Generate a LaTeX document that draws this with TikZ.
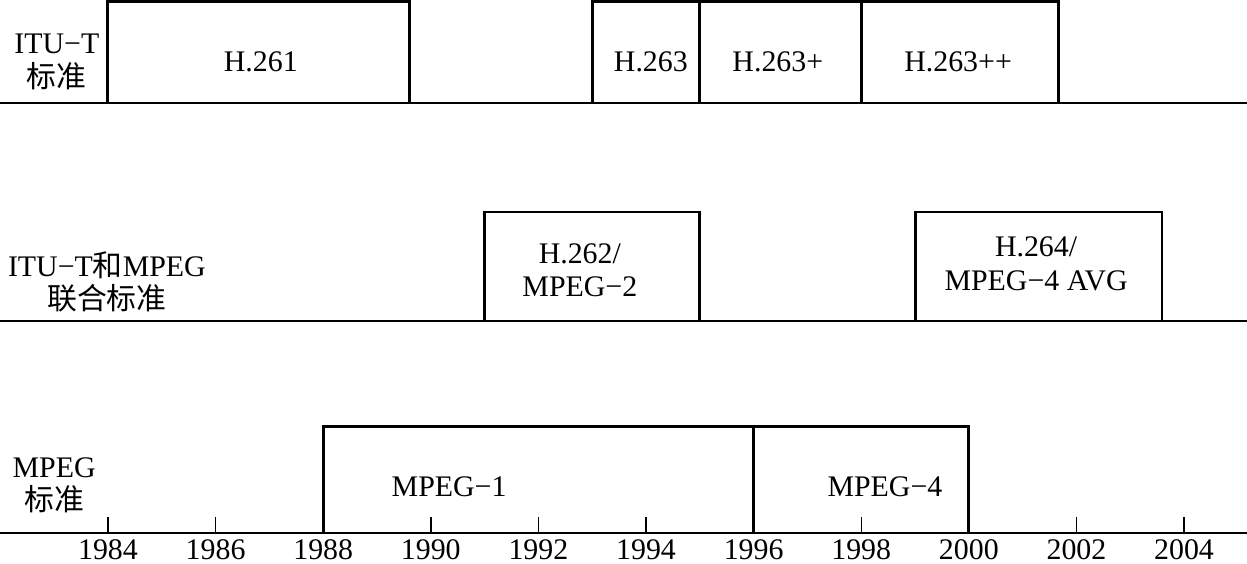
\documentclass[tikz,border=0pt]{standalone}
\usepackage{fontspec}
\setmainfont{Liberation Serif}
\newfontfamily\cjk{Noto Sans CJK SC}
\usepackage{tikz}
\usetikzlibrary{positioning}
\newcommand{\txt}{\fontsize{17}{19}\selectfont}

\begin{document}
\begin{tikzpicture}[x=1.076cm,y=1cm]
\useasboundingbox (-2.007,-0.6) rectangle (21.17,10.66);
% base lines of the three rows
\draw[line width=1pt] (-2.007,0)--(21.17,0);
\draw[line width=1pt] (-2.007,4.24)--(21.17,4.24);
\draw[line width=1pt] (-2.007,8.6)--(21.17,8.6);
% ticks and years
\foreach \yr in {0,2,...,20}{
  \pgfmathtruncatemacro{\yrlbl}{1984+\yr}
  \draw[line width=0.8pt] (\yr,0)--(\yr,0.32);
  \node[font=\txt,inner sep=0.5pt] (t\yrlbl) at (\yr,-0.34) {\yrlbl};
}
% ITU-T boxes
\draw[line width=1.7pt] (0,8.6)--(0,10.63)--(5.61,10.63)--(5.61,8.6);
\draw[line width=1.7pt] (9,8.6)--(9,10.63)--(17.66,10.63)--(17.66,8.6);
\draw[line width=1.7pt] (11,8.6)--(11,10.63);
\draw[line width=1.7pt] (14,8.6)--(14,10.63);
% joint boxes
\draw[line width=1.7pt] (7,4.24)--(7,6.42)--(11,6.42)--(11,4.24);
\draw[line width=1.7pt] (15,4.24)--(15,6.42)--(19.59,6.42)--(19.59,4.24);
% MPEG boxes
\draw[line width=1.7pt] (4,0)--(4,2.14)--(16,2.14)--(16,0);
\draw[line width=1.7pt] (12,0)--(12,2.14);
% row names
\node[font=\txt,align=center] (itu) at (-0.95,9.42) {ITU−T\\{\cjk 标准}};
\node[font=\txt,align=center] (joint) at (-0.02,5.02) {ITU−T{\cjk 和}MPEG\\{\cjk 联合标准}};
\node[font=\txt,align=center] (mpeg) at (-1.0,0.96) {MPEG\\{\cjk 标准}};
% standards
\node[font=\txt] (h261) at (2.84,9.42) {H.261};
\node[font=\txt] (h263) at (10.09,9.42) {H.263};
\node[font=\txt] (h263p) at (12.45,9.42) {H.263+};
\node[font=\txt] (h263pp) at (15.8,9.42) {H.263++};
\node[font=\txt,align=center] (h262) at (8.77,5.26) {H.262/\\MPEG−2};
\node[font=\txt,align=center] (h264) at (17.25,5.38) {H.264/\\MPEG−4 AVG};
\node[font=\txt] (mpeg1) at (6.34,0.92) {MPEG−1};
\node[font=\txt] (mpeg4) at (14.44,0.92) {MPEG−4};
\end{tikzpicture}
\end{document}
